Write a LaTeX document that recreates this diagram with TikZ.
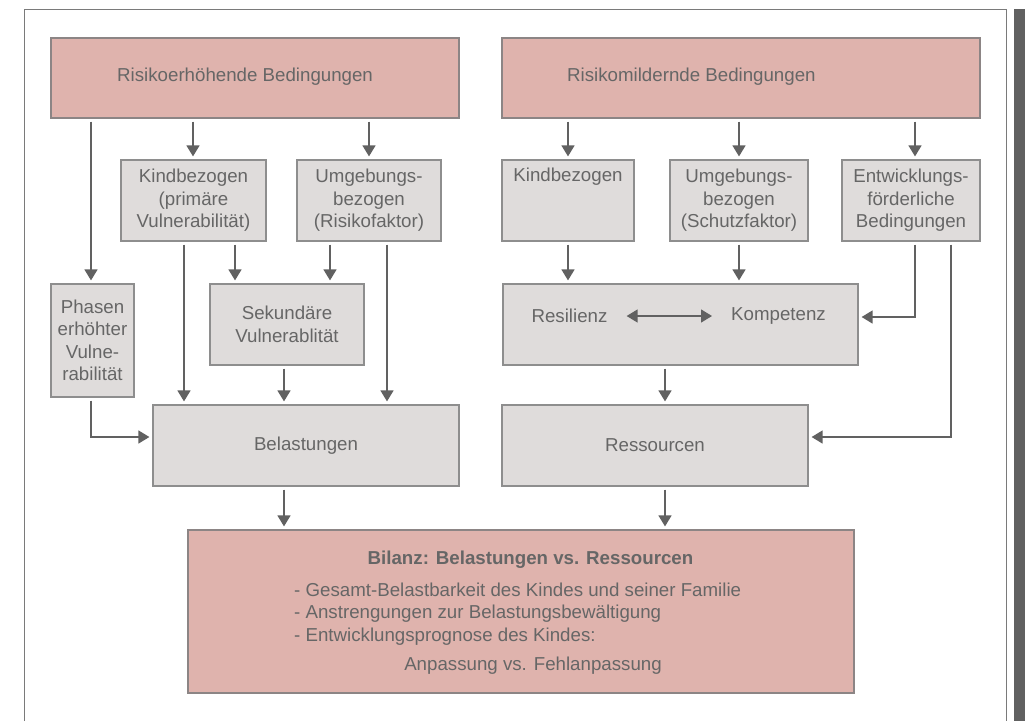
\documentclass[tikz,border=0pt]{standalone}
\usepackage{fontspec}
\setmainfont{Liberation Sans}
\usetikzlibrary{arrows.meta}
\definecolor{txtgray}{HTML}{666666}
\definecolor{rosefill}{HTML}{DFB3AD}
\definecolor{roseline}{HTML}{8C8585}
\definecolor{greyfill}{HTML}{DFDCDB}
\definecolor{greyline}{HTML}{8E8E8E}
\definecolor{arrowgray}{HTML}{616161}
\definecolor{framegray}{HTML}{7A7A7A}

\begin{document}
\begin{tikzpicture}[x=1pt, y=-1pt, inner sep=0pt, text=txtgray,
    font=\fontsize{18.7}{22.5}\selectfont,
    rose/.style = {draw=roseline, fill=rosefill, line width=1.2pt},
    grey/.style = {draw=greyline, fill=greyfill, line width=1.2pt, align=center},
    arr/.style = {draw=arrowgray, line width=1.4pt, -{Triangle[length=11pt,width=13pt]},
                  shorten <=3pt, shorten >=3pt},
    dbl/.style = {draw=arrowgray, line width=1.4pt,
                  {Triangle[length=11pt,width=13pt]}-{Triangle[length=11pt,width=13pt]},
                  shorten <=19pt, shorten >=19pt}]

	\useasboundingbox (0,0) rectangle (1025,721);

	% frame
	\draw[framegray, line width=1pt] (24,721) -- (24,9) -- (1006.5,9) -- (1006.5,721);
	\fill[arrowgray] (1014,9) rectangle (1025,721);

	% upper row
	\node[rose, minimum width=408, minimum height=80] (riskup) at (255,78) {};
	\node[anchor=west] (riskupT) at (117,77) {Risikoerhöhende Bedingungen};
	\node[rose, minimum width=478, minimum height=80] (riskdown) at (741,78) {};
	\node[anchor=west] (riskdownT) at (567,77) {Risikomildernde Bedingungen};

	\node[grey, minimum width=145, minimum height=81] (kindL) at (193.5,200.5) {Kindbezogen\\(primäre\\Vulnerabilität)};
	\node[grey, minimum width=144, minimum height=81] (umgL) at (369,200.5) {Umgebungs-\\bezogen\\(Risikofaktor)};
	\node[grey, minimum width=132, minimum height=81] (kindR) at (568,200.5) {Kindbezogen\\\strut\\\strut};
	\node[grey, minimum width=138, minimum height=81] (umgR) at (739,200.5) {Umgebungs-\\bezogen\\(Schutzfaktor)};
	\node[grey, minimum width=138, minimum height=81] (entw) at (911,200.5) {Entwicklungs-\\förderliche\\Bedingungen};

	% middle row
	\node[grey, minimum width=83, minimum height=113] (phasen) at (92.5,340.5) {Phasen\\erhöhter\\Vulne-\\rabilität};
	\node[grey, minimum width=154, minimum height=81] (sek) at (287,324.5) {Sekundäre\\Vulnerablität};
	\node[grey, minimum width=355, minimum height=81] (resil) at (680.5,324.5) {};
	\node (resT) at (569.5,316) {Resilienz};
	\node (kompT) at (778.5,316) {Kompetenz};

	\node[grey, minimum width=306, minimum height=81] (belast) at (306,445.5) {Belastungen};
	\node[grey, minimum width=306, minimum height=81] (ress) at (655,445.5) {Ressourcen};

	% bilanz
	\node[rose, minimum width=666, minimum height=163] (bilanz) at (521,611.5) {};
	\node[font=\fontsize{18.7}{22.5}\selectfont\bfseries] (bilanzT) at (530.5,560) {Bilanz: Belastungen vs. Ressourcen};
	\node[anchor=north west, align=left] (bilanzL) at (294,582.5) {- Gesamt-Belastbarkeit des Kindes und seiner Familie\\- Anstrengungen zur Belastungsbewältigung\\- Entwicklungsprognose des Kindes:};
	\node (bilanzA) at (533,666) {Anpassung vs. Fehlanpassung};

	% arrows left
	\draw[arr] (riskup.south -| 91,0) -- (phasen.north -| 91,0);
	\draw[arr] (riskup.south -| 193,0) -- (kindL.north -| 193,0);
	\draw[arr] (riskup.south -| 369,0) -- (umgL.north -| 369,0);
	\draw[arr] (kindL.south -| 184,0) -- (belast.north -| 184,0);
	\draw[arr] (kindL.south -| 235,0) -- (sek.north -| 235,0);
	\draw[arr] (umgL.south -| 330,0) -- (sek.north -| 330,0);
	\draw[arr] (umgL.south -| 387,0) -- (belast.north -| 387,0);
	\draw[arr] (sek.south -| 284,0) -- (belast.north -| 284,0);
	\draw[arr] (phasen.south -| 91,0) |- (belast.west |- 0,437);
	\draw[arr] (belast.south -| 284,0) -- (bilanz.north -| 284,0);

	% arrows right
	\draw[arr] (riskdown.south -| 568,0) -- (kindR.north -| 568,0);
	\draw[arr] (riskdown.south -| 739,0) -- (umgR.north -| 739,0);
	\draw[arr] (riskdown.south -| 915,0) -- (entw.north -| 915,0);
	\draw[arr] (kindR.south -| 568,0) -- (resil.north -| 568,0);
	\draw[arr] (umgR.south -| 739,0) -- (resil.north -| 739,0);
	\draw[arr] (entw.south -| 915,0) |- (resil.east |- 0,317);
	\draw[arr] (entw.south -| 951,0) |- (ress.east |- 0,437);
	\draw[dbl] (resT.east) -- (kompT.west);
	\draw[arr] (resil.south -| 665,0) -- (ress.north -| 665,0);
	\draw[arr] (ress.south -| 665,0) -- (bilanz.north -| 665,0);
\end{tikzpicture}
\end{document}
